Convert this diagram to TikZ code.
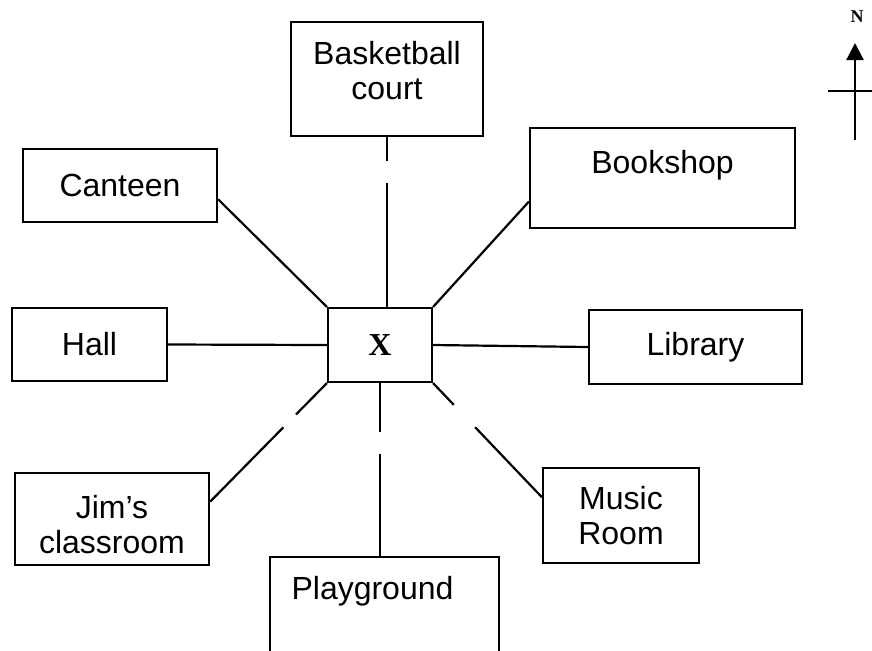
\documentclass[tikz,border=0pt]{standalone}
\usepackage{fontspec}
\setmainfont{Liberation Sans}
\newfontfamily\mapserif{Liberation Serif}
\usetikzlibrary{arrows.meta}

\begin{document}
\begin{tikzpicture}[x = 0.5pt, y = -0.5pt, line width = 1.1pt,
	room/.style = {draw, align = center, font = \fontsize{16pt}{17.5pt}\selectfont}]
	\clip (0, 0) rectangle (872, 650);

	% Mitte
	\node [draw, minimum width = 52pt, minimum height = 37pt, font = \mapserif\bfseries\fontsize{16pt}{18pt}\selectfont] (centre) at (380, 345) {X};

	% Raeume
	\node [room, minimum width = 96pt, minimum height = 57pt, text depth = 9pt] (court) at (387, 79) {Basketball\\court};
	\node [room, minimum width = 97pt, minimum height = 36.5pt] (canteen) at (120, 185.5) {Canteen};
	\node [room, minimum width = 132.5pt, minimum height = 50pt, text depth = 16pt] (bookshop) at (662.5, 178) {Bookshop};
	\node [room, minimum width = 77.5pt, minimum height = 36.5pt] (hall) at (89.5, 344.5) {Hall};
	\node [room, minimum width = 106.5pt, minimum height = 37pt] (library) at (695.5, 347) {Library};
	\node [room, minimum width = 97pt, minimum height = 46pt, text height = 35pt] (jim) at (112, 519) {Jim's\\classroom};
	\node [room, minimum width = 78pt, minimum height = 47.5pt] (music) at (621, 515.5) {Music\\Room};
	\node [room, anchor = north, minimum width = 114.5pt, text height = 11.7pt, text depth = 50pt, inner ysep = 9.5pt] (playground) at (384.5, 556) {Playground\hspace{12pt}};

	% Wege
	\draw [dash pattern = on 12pt off 11pt on 200pt] (court.south) -- (court.south |- centre.north);
	\draw (canteen.-8) -- (centre.north west);
	\draw (bookshop.190) -- (centre.north east);
	\draw (hall.east) -- (centre.west);
	\draw (centre.east) -- (library.west);
	\draw [dash pattern = on 22pt off 9pt on 200pt] (centre.south west) -- (jim.10);
	\draw [dash pattern = on 24.5pt off 11pt on 200pt] (centre.south) -- (centre.south |- playground.north);
	\draw [dash pattern = on 15pt off 15.5pt on 200pt] (centre.south east) -- (music.167);

	% Nordpfeil
	\coordinate (tail) at (855, 140);
	\coordinate (tip) at (855, 43);
	\coordinate (crosswest) at (828, 91);
	\coordinate (crosseast) at (872, 91);
	\draw [-{Triangle[width = 8.5pt, length = 8.5pt]}] (tail) -- (tip);
	\draw (crosswest) -- (crosseast);
	\node [font = \mapserif\bfseries\fontsize{9pt}{10pt}\selectfont] (north) at (857, 17) {N};
\end{tikzpicture}
\end{document}
